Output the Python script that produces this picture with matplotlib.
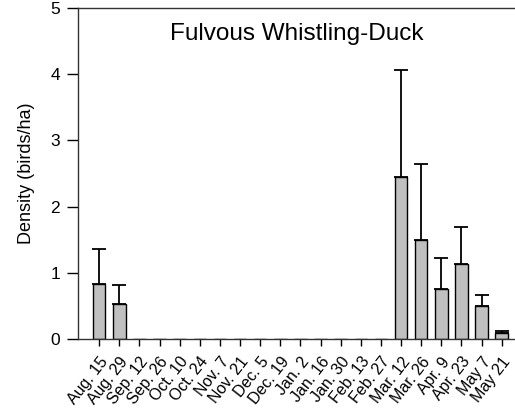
import matplotlib
matplotlib.use('Agg')
import matplotlib.pyplot as plt
import numpy as np

plt.rcParams['font.family'] = ['Liberation Sans', 'DejaVu Sans']

# survey dates
dates = ['Aug. 15', 'Aug. 29', 'Sep. 12', 'Sep. 26', 'Oct. 10', 'Oct. 24',
         'Nov. 7', 'Nov. 21', 'Dec. 5', 'Dec. 19', 'Jan. 2', 'Jan. 16',
         'Jan. 30', 'Feb. 13', 'Feb. 27', 'Mar. 12', 'Mar. 26', 'Apr. 9',
         'Apr. 23', 'May 7', 'May 21']

# mean density (birds/ha)
density = [0.835, 0.524, 0, 0, 0, 0, 0, 0, 0, 0, 0, 0, 0, 0, 0,
           2.443, 1.495, 0.75, 1.128, 0.494, 0.086]

# upper error (SE)
err_up = [0.52, 0.292, 0, 0, 0, 0, 0, 0, 0, 0, 0, 0, 0, 0, 0,
          1.617, 1.148, 0.474, 0.562, 0.171, 0.034]

fig = plt.figure(figsize=(5.15, 4.12), dpi=100)
ax = fig.add_axes([78/515, 1 - 339/412, 437/515, 331/412])

x = np.arange(len(dates))
ax.bar(x, density, width=0.62, color='#c0c0c0', edgecolor='black', linewidth=1.0, zorder=2)

# only the upper half of the error bars
has = [i for i in x if err_up[i] > 0]
ax.errorbar([x[i] for i in has], [density[i] for i in has],
            yerr=[[0]*len(has), [err_up[i] for i in has]],
            fmt='none', ecolor='black', elinewidth=1.3, capsize=5.3, capthick=1.3, zorder=3)

ax.set_xlim(-1.05, 20.66)
ax.set_ylim(0, 5)
ax.set_yticks([0, 1, 2, 3, 4, 5])
ax.set_xticks(x)
ax.set_xticklabels(dates, rotation=52, ha='right', rotation_mode='anchor', fontsize=11.5)
ax.tick_params(axis='y', direction='out', length=8, width=1, labelsize=12.5, pad=5)
ax.tick_params(axis='x', direction='out', length=5, width=1, pad=6)

ax.spines['right'].set_visible(False)
for s in ['left', 'bottom', 'top']:
    ax.spines[s].set_linewidth(1.0)
    ax.spines[s].set_color('#333333')

ax.set_ylabel('Density (birds/ha)', fontsize=13, labelpad=11)
ax.text(0.5, 0.92, 'Fulvous Whistling-Duck', transform=ax.transAxes,
        ha='center', va='center', fontsize=17.5)

fig.savefig('out.png', dpi=100)
